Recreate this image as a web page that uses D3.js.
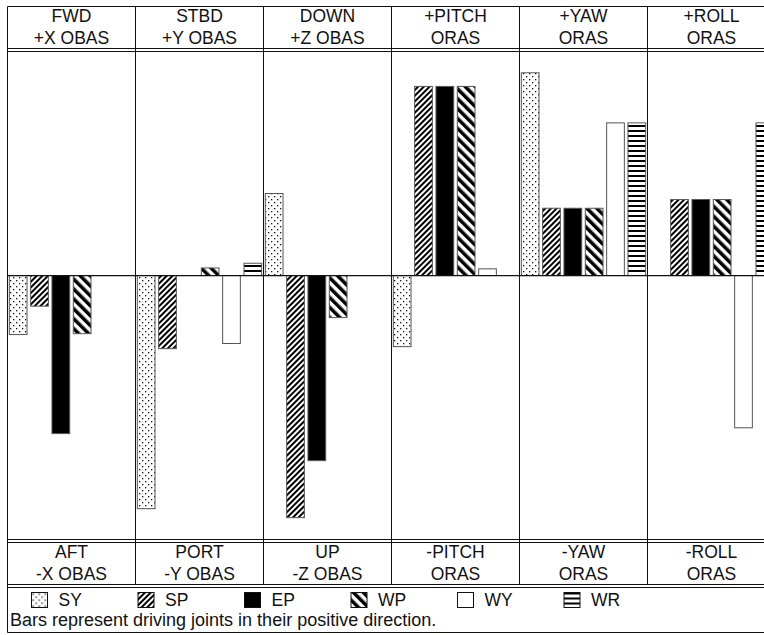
<!DOCTYPE html>
<html>
<head>
<meta charset="utf-8">
<script src="https://cdn.jsdelivr.net/npm/d3@7"></script>
<style>
  body { margin: 0; background: #fff; }
  text { font-family: 'Liberation Sans', Arial, Helvetica, sans-serif; fill: #111; }
</style>
</head>
<body>
<svg width="764" height="635"></svg>
<script>
(function (d3) {
  'use strict';

  // column labels (top = positive direction, bottom = negative)
  const topLabels = [
    ['FWD', '+X OBAS'], ['STBD', '+Y OBAS'], ['DOWN', '+Z OBAS'],
    ['+PITCH', 'ORAS'], ['+YAW', 'ORAS'], ['+ROLL', 'ORAS']
  ];
  const bottomLabels = [
    ['AFT', '-X OBAS'], ['PORT', '-Y OBAS'], ['UP', '-Z OBAS'],
    ['-PITCH', 'ORAS'], ['-YAW', 'ORAS'], ['-ROLL', 'ORAS']
  ];
  const columns = topLabels.map(d => d[0]);
  const seriesNames = ['SY', 'SP', 'EP', 'WP', 'WY', 'WR'];

  // one value per column
  const SY = [-26.4, -104.3, 36.7, -31.8, 90.7, 0];
  const SP = [-13.7, -32.7, -108.3, 84.6, 30.1, 34.0];
  const EP = [-70.7, 0, -82.8, 84.6, 30.1, 34.0];
  const WP = [-26.0, 3.4, -18.8, 84.6, 30.1, 34.0];
  const WY = [0, -30.4, 0, 3.0, 68.3, -68.1];
  const WR = [0, 5.5, 0, 0, 68.3, 68.3];
  const seriesValues = { SY, SP, EP, WP, WY, WR };

  const footnote = 'Bars represent driving joints in their positive direction.';

  const svg = d3.select('svg');

  const left = 7.5, colW = 128;
  const frameTop = 6.5, headBottom = 48.5, plotTop = 51.5;
  const plotBottom = 539.5, footTop = 542.5, footBottom = 584.5;
  const legendTop = 587.5, legendBottom = 632.5;
  const right = left + colW * columns.length;

  const x = d3.scaleBand().domain(columns).range([left, right]);
  const xInner = d3.scaleBand().domain(seriesNames)
    .range([0, colW]).paddingInner(0.17).paddingOuter(0.085);
  const y = d3.scaleLinear().domain([-118.3, 100]).range([540, 52]);

  // patterns
  const defs = svg.append('defs');
  const pat = (id, w, h, rot) => {
    const p = defs.append('pattern')
      .attr('id', id)
      .attr('patternUnits', 'userSpaceOnUse')
      .attr('width', w).attr('height', h);
    if (rot) p.attr('patternTransform', `rotate(${rot})`);
    p.append('rect').attr('width', w).attr('height', h).attr('fill', '#fff');
    return p;
  };
  const sy = pat('p-SY', 6, 6);
  [[1, 1], [4, 4]].forEach(([cx, cy]) =>
    sy.append('rect').attr('x', cx).attr('y', cy).attr('width', 1.3).attr('height', 1.3).attr('fill', '#111'));
  pat('p-SP', 4, 4, 45).append('rect')
    .attr('x', 0).attr('width', 2).attr('height', 4).attr('fill', '#000');
  pat('p-WP', 7, 7, -45).append('rect')
    .attr('x', 0).attr('width', 3.5).attr('height', 7).attr('fill', '#000');
  pat('p-WR', 5, 5).append('rect')
    .attr('y', 0).attr('width', 5).attr('height', 2).attr('fill', '#000');

  const fillFor = s => ({
    SY: 'url(#p-SY)', SP: 'url(#p-SP)', EP: '#000',
    WP: 'url(#p-WP)', WY: '#fff', WR: 'url(#p-WR)'
  })[s];

  // bars
  const bars = [];
  columns.forEach((c, i) => {
    seriesNames.forEach(s => {
      const v = seriesValues[s][i];
      if (v !== 0) bars.push({ c, s, v });
    });
  });

  svg.append('g').selectAll('rect').data(bars)
    .enter().append('rect')
      .attr('x', d => x(d.c) + xInner(d.s))
      .attr('y', d => y(Math.max(0, d.v)))
      .attr('width', xInner.bandwidth())
      .attr('height', d => Math.abs(y(d.v) - y(0)))
      .attr('fill', d => fillFor(d.s))
      .attr('stroke', '#555')
      .attr('stroke-width', 1);

  // frame lines
  const lines = svg.append('g').attr('stroke', '#111').attr('stroke-width', 1);
  [frameTop, headBottom, plotTop, plotBottom, footTop, footBottom, legendTop, legendBottom]
    .forEach(yy => lines.append('line')
      .attr('x1', left).attr('x2', right).attr('y1', yy).attr('y2', yy));
  lines.append('line')
    .attr('x1', left).attr('x2', right)
    .attr('y1', y(0)).attr('y2', y(0))
    .attr('stroke-width', 1.3);
  lines.append('line')
    .attr('x1', left).attr('x2', left).attr('y1', frameTop).attr('y2', legendBottom);
  columns.forEach((c, i) => {
    const xx = left + colW * (i + 1);
    lines.append('line')
      .attr('x1', xx).attr('x2', xx).attr('y1', frameTop).attr('y2', footBottom);
  });

  // column headers
  const header = (labels, y1, y2) => {
    const g = svg.append('g').attr('text-anchor', 'middle').attr('font-size', 17.5);
    labels.forEach((l, i) => {
      const cx = x(columns[i]) + colW / 2;
      g.append('text').attr('x', cx).attr('y', y1).text(l[0]);
      g.append('text').attr('x', cx).attr('y', y2).text(l[1]);
    });
  };
  header(topLabels, 22, 44);
  header(bottomLabels, 558, 580);

  // legend
  const legendG = svg.append('g').attr('font-size', 17.5);
  const item = legendG.selectAll('g').data(seriesNames)
    .enter().append('g')
      .attr('transform', (d, i) => `translate(${31.5 + i * 106.5},592.5)`);
  item.append('rect')
    .attr('width', 16).attr('height', 15)
    .attr('fill', fillFor)
    .attr('stroke', '#111');
  item.append('text')
    .attr('x', 27).attr('y', 13)
    .text(d => d);
  legendG.append('text')
    .attr('x', 10).attr('y', 626)
    .attr('font-size', 18)
    .text(footnote);
}(d3));
</script>
</body>
</html>
